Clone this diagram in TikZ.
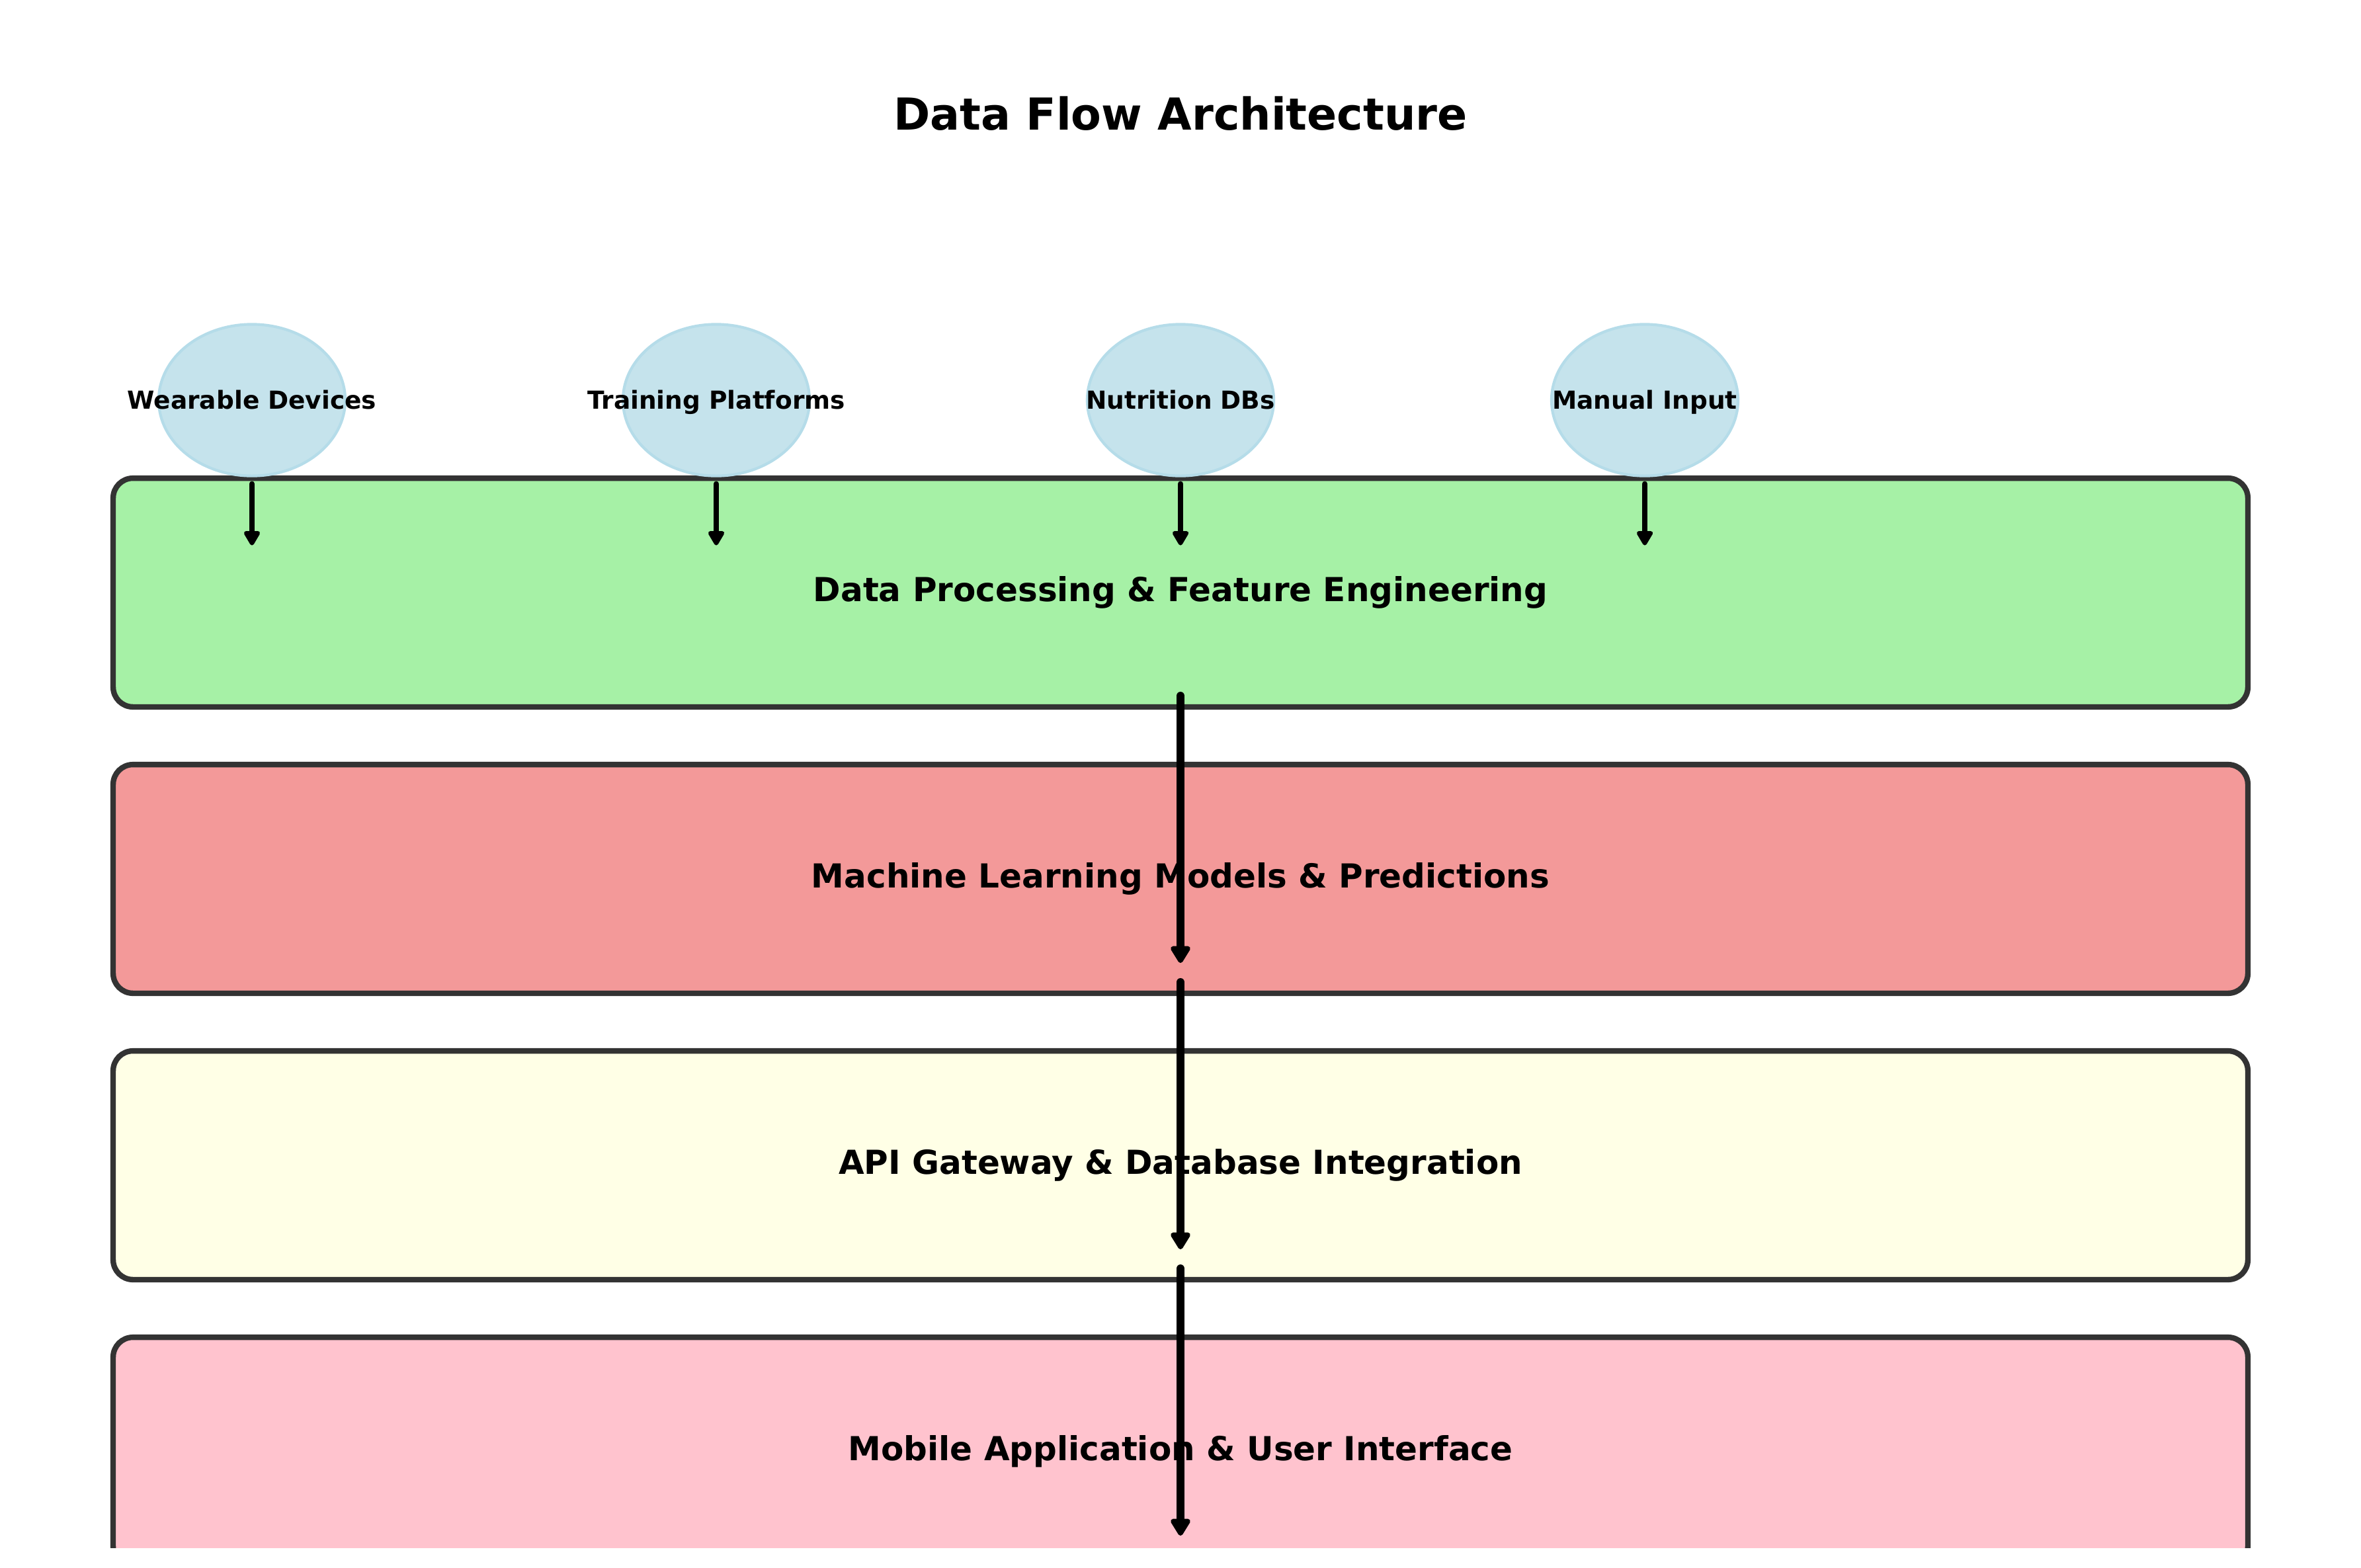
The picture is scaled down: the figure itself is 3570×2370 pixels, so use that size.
\documentclass[tikz,border=0pt]{standalone}
\usepackage{fontspec}
\setmainfont{DejaVu Sans}
\usetikzlibrary{arrows.meta,shapes.geometric}

\definecolor{srcfill}{HTML}{C5E3EC}
\definecolor{srcedge}{HTML}{B5DCE9}
\definecolor{procfill}{HTML}{A6F1A6}
\definecolor{mlfill}{HTML}{F39999}
\definecolor{apifill}{HTML}{FFFFE6}
\definecolor{appfill}{HTML}{FFC3CE}
\definecolor{layeredge}{HTML}{333333}

\tikzset{
  source/.style={ellipse, fill=srcfill, draw=srcedge, line width=1pt, inner sep=0pt,
    minimum width=67.7pt, minimum height=55pt,
    label={[font=\bfseries\fontsize{9}{11}\selectfont, text height=6.6pt, text depth=0pt]center:#1}},
  layer/.style={rectangle, rounded corners=7.2pt, draw=layeredge, line width=2pt,
    outer sep=0pt, minimum width=774.7pt, minimum height=83pt,
    text height=8.8pt, text depth=2.2pt,
    font=\bfseries\fontsize{12}{14}\selectfont},
  feed/.style={-{Triangle[round, length=6pt, width=6.5pt]}, line width=2pt},
  flow/.style={-{Triangle[round, length=7pt, width=8pt]}, line width=3pt}
}

\begin{document}
\begin{tikzpicture}[x=0.24pt, y=-0.24pt, line cap=round, line join=round]

% Page
\fill[white] (0,0) rectangle (3570,2370);
\useasboundingbox (0,0) rectangle (3570,2370);

% Title
\node[font=\bfseries\fontsize{16}{19}\selectfont] (title) at (1785,172) {Data Flow Architecture};

\begin{scope}
\clip (0,0) rectangle (3570,2340);

% Layers
\node[layer, fill=procfill] (proc) at (1785,896) {Data Processing \& Feature Engineering};
\node[layer, fill=mlfill] (ml) at (1785,1329) {Machine Learning Models \& Predictions};
\node[layer, fill=apifill] (api) at (1785,1762) {API Gateway \& Database Integration};
\node[layer, fill=appfill] (app) at (1785,2195) {Mobile Application \& User Interface};

% Sources
\node[source={Wearable Devices}] (wear) at (381,605) {};
\node[source={Training Platforms}] (train) at (1083,605) {};
\node[source={Nutrition DBs}] (nutri) at (1785,605) {};
\node[source={Manual Input}] (manual) at (2487,605) {};

% Inputs
\draw[feed] ([yshift=-2.4pt]wear.south) -- ([yshift=-24.7pt]wear.south);
\draw[feed] ([yshift=-2.4pt]train.south) -- ([yshift=-24.7pt]train.south);
\draw[feed] ([yshift=-2.4pt]nutri.south) -- ([yshift=-24.7pt]nutri.south);
\draw[feed] ([yshift=-2.4pt]manual.south) -- ([yshift=-24.7pt]manual.south);

% Flow
\draw[flow] ([yshift=4pt]proc.south) -- ([yshift=11pt]ml.south);
\draw[flow] ([yshift=4pt]ml.south) -- ([yshift=11pt]api.south);
\draw[flow] ([yshift=4pt]api.south) -- ([yshift=11pt]app.south);

\end{scope}

\end{tikzpicture}
\end{document}
